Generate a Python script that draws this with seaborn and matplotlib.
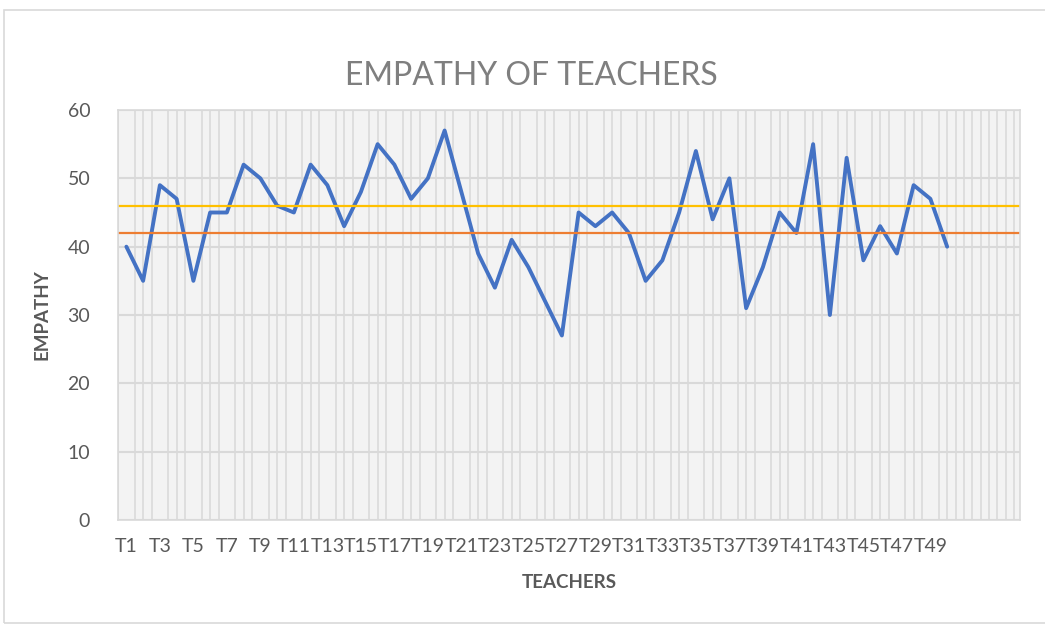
"""
Empathy of teachers - line chart.
"""

import matplotlib.pyplot as plt
import numpy as np
import pandas as pd
import seaborn as sns
from matplotlib.patches import Rectangle

teachers = [f"T{i}" for i in range(1, 51)]

empathy = [
    40, 35, 49, 47, 35, 45, 45, 52, 50, 46,
    45, 52, 49, 43, 48, 55, 52, 47, 50, 57,
    48, 39, 34, 41, 37, 32, 27, 45, 43, 45,
    42, 35, 38, 45, 54, 44, 50, 31, 37, 45,
    42, 55, 30, 53, 38, 43, 39, 49, 47, 40,
]

reference_levels = [42, 46]
reference_colors = ["#ED7D31", "#FFC000"]

y_ticks = [0, 10, 20, 30, 40, 50, 60]

text_grey = "#595959"


def run_plot():

    df = pd.DataFrame({"teacher": teachers, "empathy": empathy})

    sns.set_style("white")
    plt.rcParams["font.family"] = ["Lato", "DejaVu Sans"]

    fig = plt.figure(figsize=(10.45, 6.24), dpi=100)
    ax = fig.add_axes([118 / 1045, 1 - 520 / 624, 902 / 1045, 410 / 624])

    # outer chart border
    fig.patches.append(
        Rectangle((4 / 1045, 0.002), 1.1, 1 - 10 / 624 - 0.002,
                  transform=fig.transFigure, fill=False,
                  edgecolor="#d9d9d9", linewidth=1.2)
    )

    ax.set_facecolor("#f3f3f3")

    # patterned background: thin vertical stripes every half category
    ax.set_xticks(np.arange(-0.5, 54, 0.5), minor=True)
    ax.grid(which="minor", axis="x", color="#dcdcdc", linewidth=1.3)
    ax.grid(which="major", axis="y", color="#d9d9d9", linewidth=1.5)
    ax.grid(which="major", axis="x", visible=False)
    ax.set_axisbelow(True)

    sns.lineplot(
        data=df,
        x="teacher",
        y="empathy",
        color="#4472C4",
        linewidth=2.8,
        ax=ax
    )

    for level, color in zip(reference_levels, reference_colors):
        ax.axhline(level, color=color, linewidth=1.6)

    ax.set_xlim(-0.5, 53.35)
    ax.set_ylim(0, 60)
    ax.set_yticks(y_ticks)
    ax.set_yticklabels([str(v) for v in y_ticks])

    ax.set_xticks(range(0, 50, 2))
    ax.set_xticklabels(teachers[::2])

    ax.tick_params(axis="both", which="both", length=0,
                   labelcolor=text_grey, labelsize=14)
    ax.tick_params(axis="x", pad=13)
    ax.tick_params(axis="y", pad=20)

    for side in ax.spines.values():
        side.set_color("#d9d9d9")
        side.set_linewidth(1.2)

    ax.set_xlabel("TEACHERS", fontsize=13.5, fontweight="bold",
                  color=text_grey, labelpad=14)
    ax.set_ylabel("EMPATHY", fontsize=13.5, fontweight="bold",
                  color=text_grey, labelpad=12)

    fig.text(531 / 1045, 1 - 76 / 624, "EMPATHY OF TEACHERS",
             ha="center", va="center", fontsize=23,
             fontweight="normal", color="#7f7f7f")

    fig.savefig("out.png", dpi=100)


if __name__ == "__main__":
    run_plot()
